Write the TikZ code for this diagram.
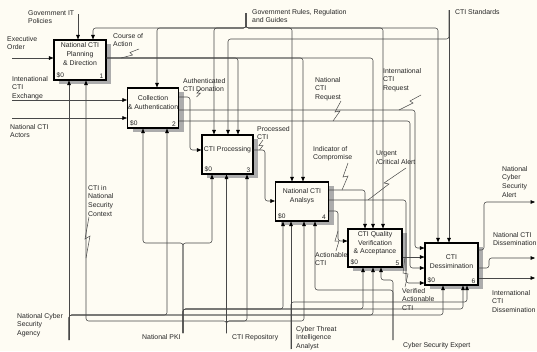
\documentclass[tikz,border=0pt]{standalone}
\usepackage{fontspec}
\setmainfont{Liberation Sans}
\usetikzlibrary{arrows.meta,calc,shadows}
\definecolor{paper}{RGB}{254,252,243}
\definecolor{wire}{RGB}{72,72,72}
\definecolor{shade}{RGB}{172,172,172}
\begin{document}
\begin{tikzpicture}[x=1pt,y=-1pt,
  every node/.style={font=\fontsize{6.9}{8.6}\selectfont, text=black!85},
  fn/.style={draw=black, line width=1.1pt, fill=paper, inner sep=0pt,
    general shadow={shadow xshift=5pt, shadow yshift=-4pt, fill=shade}},
  ln/.style={draw=wire, line width=0.55pt, rounded corners=2.5pt},
  arr/.style={-{Triangle[length=4.5pt,width=3.6pt,color=black]}},
  lbl/.style={anchor=north west, align=left, inner sep=0pt},
  sq/.style={draw=wire, line width=0.5pt},
  ttl/.style={align=center, inner sep=0pt},
  tag/.style={inner sep=0pt, font=\fontsize{6.6}{8}\selectfont}]

\fill[paper] (0,0) rectangle (537,351);
\useasboundingbox (0,0) rectangle (537,351);

% ---------- activity boxes ----------
\node[fn, minimum width=52pt, minimum height=40pt] (b1) at (80,60) {};
\node[fn, minimum width=51pt, minimum height=40pt] (b2) at (153,108) {};
\node[fn, minimum width=51pt, minimum height=39pt] (b3) at (227.5,154.5) {};
\node[fn, minimum width=53pt, minimum height=39pt] (b4) at (302,201.5) {};
\node[fn, minimum width=54pt, minimum height=38pt] (b5) at (375,248) {};
\node[fn, minimum width=53pt, minimum height=42pt] (b6) at (451.5,264) {};

\node[ttl] (b1t) at ($(b1.center)+(0,-6)$) {National CTI\\Planning\\\& Direction};
\node[ttl] (b2t) at ($(b2.center)+(0,-5.5)$) {Collection\\\& Authentication};
\node[ttl] (b3t) at ($(b3.center)+(0,-4.5)$) {CTI Processing};
\node[ttl] (b4t) at ($(b4.center)+(0,-5)$) {National CTI\\Analsys};
\node[ttl] (b5t) at ($(b5.center)+(0,-4.5)$) {CTI Quality\\Verification\\\& Acceptance};
\node[ttl] (b6t) at ($(b6.center)+(0,-2.5)$) {CTI\\Dessimination};

\foreach \bx/\n in {b1/1,b2/2,b3/3,b4/4,b5/5,b6/6}{
  \node[tag, anchor=south west] (\bx d) at ($(\bx.south west)+(3,-2)$) {\$0};
  \node[tag, anchor=south east] (\bx n) at ($(\bx.south east)+(-3,-2)$) {\n};
}

% ---------- controls ----------
\coordinate (govit) at (78,14);
\draw[ln,arr] (govit) -- (govit |- b1.north);

\coordinate (rules) at (246,13);
\foreach \x/\bx in {93/b1,157/b2,214/b3,292/b4,383/b5,438/b6}
  \draw[ln,arr] (rules) -- (246,28) -- (\x,28) -- (\x,0 |- \bx.north);

\coordinate (stds) at (449,10);
\draw[ln,arr] (stds) -- (stds |- b6.north);
\draw[ln,arr] (stds) -- (449,39) -- (228,39) -- (228,0 |- b3.north);

% Course of Action
\foreach \x/\bx in {238/b3,303/b4,373/b5}
  \draw[ln,arr] (b1.east |- 0,58) -- (\x,58) -- (\x,0 |- \bx.north);

% ---------- inputs from the left ----------
\coordinate (exec) at (12,58);
\draw[ln,arr] (exec) -- (exec -| b1.west);
\coordinate (exch) at (12,100);
\draw[ln,arr] (exch) -- (exch -| b2.west);
\coordinate (actors) at (12,118);
\draw[ln,arr] (actors) -- (actors -| b2.west);

% ---------- box to box flows ----------
\draw[ln,arr] (b2.east |- 0,97) -- (190,97) -- (190,150) -- (b3.west |- 0,150);
\draw[ln,arr] (b2.east |- 0,110) -- (415,110) -- (415,248) -- (b6.west |- 0,248);
\draw[ln,arr] (b2.east |- 0,121) -- (410,121) -- (410,268) -- (b6.west |- 0,268);
\draw[ln,arr] (b3.east |- 0,150) -- (265,150) -- (265,201) -- (b4.west |- 0,201);
\draw[ln,arr] (b4.east |- 0,190) -- (365,190) -- (365,0 |- b5.north);
\draw[ln,arr] (b4.east |- 0,200) -- (406,200) -- (406,283) -- (b6.west |- 0,283);
\draw[ln,arr] (b4.east |- 0,211) -- (338,211) -- (338,241) -- (b5.west |- 0,241);
\draw[ln,arr] (b5.east |- 0,257) -- (b6.west |- 0,257);

% ---------- outputs to the right ----------
\coordinate (alert) at (535,202);
\draw[ln,arr] (b6.east |- 0,250) -- (484,250) -- (484,202) -- (alert);
\coordinate (natdis) at (535,258);
\draw[ln,arr] (b6.east |- 0,268) -- (489,268) -- (489,258) -- (natdis);
\coordinate (intdis) at (535,278);
\draw[ln,arr] (b6.east |- 0,278) -- (intdis);

% ---------- mechanisms ----------
\coordinate (agency) at (69,340);
\draw[ln,arr] (agency) -- (agency |- b1.south);
\foreach \x/\bx in {167/b2,373/b5,443/b6}
  \draw[ln,arr] (agency) -- (69,315) -- (\x,315) -- (\x,0 |- \bx.south);

\coordinate (pki) at (183,333);
\foreach \x/\bx in {143/b2,212/b3}
  \draw[ln,arr] (pki) -- (183,243) -- (\x,243) -- (\x,0 |- \bx.south);
\foreach \x/\bx in {283/b4,363/b5,463/b6}
  \draw[ln,arr] (pki) -- (183,309) -- (\x,309) -- (\x,0 |- \bx.south);

\coordinate (repo) at (226.5,333);
\draw[ln,arr] (repo) -- (repo |- b3.south);
\foreach \x/\bx in {86/b1,247/b3,304/b4}
  \draw[ln,arr] (repo) -- (226.5,321) -- (\x,321) -- (\x,0 |- \bx.south);

\coordinate (analyst) at (291,349);
\draw[ln,arr] (analyst) -- (analyst |- b4.south);
\draw[ln,arr] (analyst) -- (291,302) -- (467,302) -- (467,0 |- b6.south);

\coordinate (expert) at (393,340);
\draw[ln,arr] (expert) -- (393,280) -- (381,280) -- (381,0 |- b5.south);
\draw[ln,arr] (expert) -- (393,290) -- (315,290) -- (315,0 |- b4.south);

% ---------- arrow labels ----------
\node[lbl] (lgovit) at (28,10) {Government IT\\Policies};
\node[lbl] (lexec) at (7,36) {Executive\\Order};
\node[lbl] (lexch) at (12,76) {Intenational\\CTI\\Exchange};
\node[lbl] (lactors) at (10,124) {National CTI\\Actors};
\node[lbl] (lrules) at (252,9) {Government Rules, Regulation\\and Guides};
\node[lbl] (lstds) at (455,9) {CTI Standards};
\node[lbl] (lcoa) at (113,33) {Course of\\Action};
\node[lbl] (lacd) at (183,78) {Authenticated\\CTI Donation};
\node[lbl] (lncr) at (315,77) {National\\CTI\\Request};
\node[lbl] (licr) at (383,68) {International\\CTI\\Request};
\node[lbl] (lpcti) at (257,126) {Processed\\CTI};
\node[lbl] (lioc) at (313,146) {Indicator of\\Compromise};
\node[lbl] (luca) at (376,151) {Urgent\\/Critical Alert};
\node[lbl] (lalert) at (502,166) {National\\Cyber\\Security\\Alert};
\node[lbl] (lnatdis) at (493,232) {National CTI\\Dissemination};
\node[lbl] (lintdis) at (492,290) {International\\CTI\\Dissemination};
\node[lbl] (lact) at (315,252) {Actionable\\CTI};
\node[lbl] (lvac) at (402,288) {Verified\\Actionable\\CTI};
\node[lbl] (lcns) at (88,185) {CTI in\\National\\Security\\Context};
\node[lbl] (lagency) at (17,313) {National Cyber\\Security\\Agency};
\node[lbl] (lpki) at (142,334) {National PKI};
\node[lbl] (lrepo) at (232,334) {CTI Repository};
\node[lbl] (lanalyst) at (296,326) {Cyber Threat\\Intelligence\\Analyst};
\node[lbl] (lexpert) at (403,342) {Cyber Security Expert};

% ---------- label squiggles ----------
\draw[sq] (139,49) -- (130,52.5) -- (132.5,55) -- (121,58);
\draw[sq] (201,89) -- (197,93) -- (200.5,93) -- (196.5,97);
\draw[sq] (341,101) -- (335,112) -- (340,111) -- (333,121);
\draw[sq] (421,95) -- (410,101) -- (413,103) -- (399,110);
\draw[sq] (263,140) -- (259,145.5) -- (263,145.5) -- (259.5,150);
\draw[sq] (348,163) -- (343,177) -- (348,176) -- (342,190);
\draw[sq] (406,168) -- (384,183) -- (389,184) -- (368,200);
\draw[sq] (336,251) -- (339,241) -- (335,241) -- (338,231);
\draw[sq] (405,287) -- (408,274) -- (403,273) -- (405,257);
\draw[sq] (89,217) -- (85,239) -- (90,236) -- (86,258);
\end{tikzpicture}
\end{document}
